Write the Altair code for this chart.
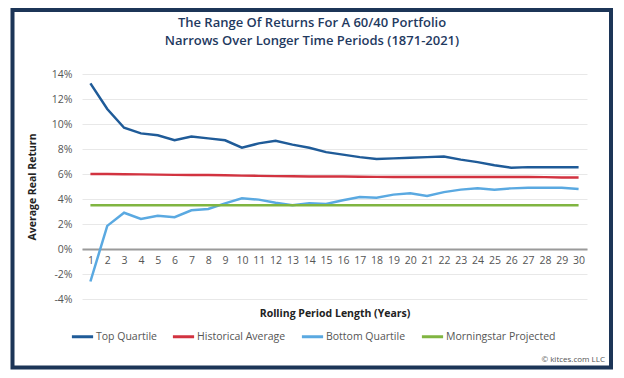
import altair as alt
import pandas as pd

periods = list(range(1, 31))
top_quartile = [13.25, 11.2, 9.7, 9.25, 9.1, 8.7, 9.0, 8.85, 8.7, 8.1,
                8.45, 8.65, 8.35, 8.1, 7.75, 7.55, 7.35, 7.2, 7.25, 7.3,
                7.35, 7.4, 7.15, 6.95, 6.7, 6.5, 6.55, 6.55, 6.55, 6.55]
historical_avg = [6.0, 6.0, 5.98, 5.97, 5.95, 5.93, 5.93, 5.92, 5.9, 5.87,
                  5.85, 5.83, 5.82, 5.8, 5.8, 5.8, 5.78, 5.77, 5.77, 5.77,
                  5.77, 5.77, 5.77, 5.77, 5.77, 5.77, 5.76, 5.75, 5.72, 5.72]
bottom_quartile = [-2.6, 1.85, 2.9, 2.4, 2.65, 2.55, 3.1, 3.2, 3.65, 4.05,
                   3.95, 3.7, 3.5, 3.65, 3.6, 3.9, 4.15, 4.1, 4.35, 4.45,
                   4.25, 4.55, 4.75, 4.85, 4.75, 4.85, 4.9, 4.9, 4.9, 4.8]
morningstar = [3.5] * 30

series_names = ["Top Quartile", "Historical Average", "Bottom Quartile", "Morningstar Projected"]
series_colors = ["#1f5b98", "#d23340", "#5aa9e1", "#80b541"]
y_ticks = [-4, -2, 0, 2, 4, 6, 8, 10, 12, 14]
title_lines = ["The Range Of Returns For A 60/40 Portfolio",
               "Narrows Over Longer Time Periods (1871-2021)"]
credit_text = "© kitces.com LLC"

rows = []
for name, vals in zip(series_names, [top_quartile, historical_avg, bottom_quartile, morningstar]):
    for p, v in zip(periods, vals):
        rows.append({"period": p, "value": v, "series": name})
df = pd.DataFrame(rows)

FONT = "Open Sans"

lines = alt.Chart(df).mark_line(strokeWidth=2.5).encode(
    x=alt.X("period:O", sort=periods,
            scale=alt.Scale(paddingOuter=0.5, paddingInner=0),
            axis=alt.Axis(title="Rolling Period Length (Years)", labelAngle=0,
                          offset=-50, ticks=False, domainColor="#9a9a9a", domainWidth=2,
                          labelColor="#555555", labelFontSize=10.5, labelPadding=6,
                          titleFontSize=10.5, titleFontWeight="bold", titleColor="#222222",
                          titlePadding=43, grid=False)),
    y=alt.Y("value:Q", scale=alt.Scale(domain=[-4, 14], nice=False),
            axis=alt.Axis(title="Average Real Return", values=y_ticks,
                          labelExpr="datum.value + '%'", ticks=False, domain=False,
                          labelColor="#555555", labelFontSize=10.5, labelPadding=10,
                          gridColor="#e8e8e8", gridWidth=1,
                          titleFontSize=10.5, titleFontWeight="bold", titleColor="#222222",
                          titlePadding=14)),
    color=alt.Color("series:N", sort=series_names,
                    scale=alt.Scale(domain=series_names, range=series_colors),
                    legend=alt.Legend(title=None, orient="none", direction="horizontal",
                                      legendX=-12, legendY=250, symbolType="stroke",
                                      symbolSize=450, symbolStrokeWidth=3, labelFontSize=10.5,
                                      labelColor="#555555", labelOffset=1, columnPadding=9)),
)

frame = alt.Chart(pd.DataFrame({"a": [0]})).mark_rect(
    fillOpacity=0, stroke="#1c3557", strokeWidth=4
).encode(x=alt.value(-69.5), x2=alt.value(529), y=alt.value(-64), y2=alt.value(293.5))

title1 = alt.Chart(pd.DataFrame({"t": [title_lines[0]]})).mark_text(
    align="center", baseline="middle", fontSize=13, fontWeight=600, color="#1f3a5f", font=FONT
).encode(text="t:N", x=alt.value(230), y=alt.value(-51))

title2 = alt.Chart(pd.DataFrame({"t": [title_lines[1]]})).mark_text(
    align="center", baseline="middle", fontSize=13, fontWeight=600, color="#1f3a5f", font=FONT
).encode(text="t:N", x=alt.value(230), y=alt.value(-33.5))

credit = alt.Chart(pd.DataFrame({"t": [credit_text]})).mark_text(
    align="right", baseline="middle", fontSize=8, color="#555555", font=FONT
).encode(text="t:N", x=alt.value(523), y=alt.value(286))

chart = alt.layer(lines, frame, title1, title2, credit).properties(
    width=505, height=225,
    autosize=alt.AutoSizeParams(type="none"),
    padding={"left": 74, "top": 66, "right": 27, "bottom": 71},
).configure(font=FONT).configure_view(stroke=None)

chart.save("out.html", embed_options={"renderer": "svg", "actions": False})
